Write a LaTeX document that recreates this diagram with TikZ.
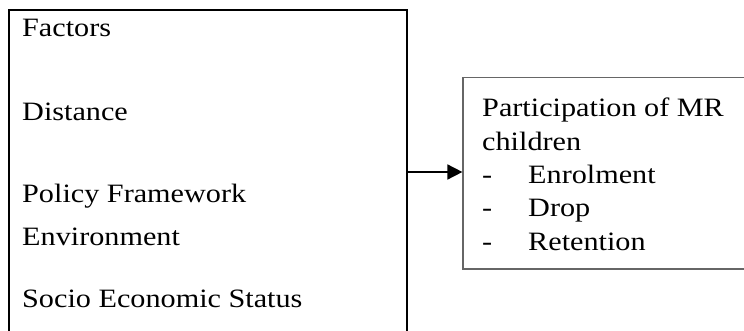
\documentclass[tikz,border=0pt]{standalone}
\usepackage{fontspec}
\setmainfont[FakeStretch=1.14]{Liberation Serif}
\usetikzlibrary{arrows.meta}
\begin{document}
\begin{tikzpicture}[x=1pt,y=-1pt,
  lbl/.style={anchor=base west,inner sep=0pt,font=\fontsize{26.5}{30}\selectfont},
  outerbox/.style={draw=black,line width=2pt,rectangle,inner sep=0pt},
  partbox/.style={draw=black!60,line width=1.2pt,rectangle,inner sep=0pt},
  conn/.style={line width=1.7pt,-{Triangle[length=15pt,width=15pt]}}]
\useasboundingbox (0,0) rectangle (744,331);
\node[outerbox,minimum width=398pt,minimum height=350pt] (factors) at (208,185) {};
\node[partbox,minimum width=297pt,minimum height=191.5pt] (part) at (611.5,173.25) {};
\node[lbl] (f0) at (22,37) {Factors};
\node[lbl] (f1) at (22,121) {Distance};
\node[lbl] (f2) at (22,203) {Policy Framework};
\node[lbl] (f3) at (22,245) {Environment};
\node[lbl] (f4) at (22,307) {Socio Economic Status};
\node[lbl] (p0) at (482,117) {Participation of MR};
\node[lbl] (p1) at (482,151) {children};
\node[lbl] (d1) at (482,184) {-};
\node[lbl] (p2) at (528,184) {Enrolment};
\node[lbl] (d2) at (482,217) {-};
\node[lbl] (p3) at (528,217) {Drop};
\node[lbl] (d3) at (482,251) {-};
\node[lbl] (p4) at (528,251) {Retention};
\coordinate (a) at (407,172);
\draw[conn] (a) -- (part.west |- a);
\end{tikzpicture}
\end{document}
